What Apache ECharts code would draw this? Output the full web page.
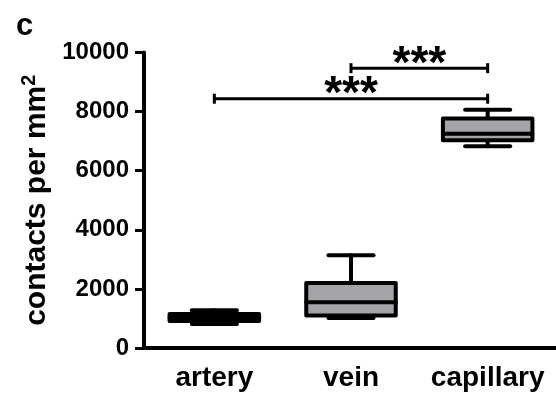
<!DOCTYPE html>
<html>
<head>
<meta charset="utf-8">
<script src="https://cdn.jsdelivr.net/npm/echarts@6/dist/echarts.min.js"></script>
<style>html,body{margin:0;padding:0;background:#fff;}#c{width:556px;height:402px;}</style>
</head>
<body>
<div id="c"></div>
<script>
var categories = ['artery', 'vein', 'capillary'];
var whiskerMin = [812, 1013, 6824];
var q1 = [914, 1098, 7027];
var median = [1030, 1544, 7253];
var q3 = [1150, 2196, 7770];
var whiskerMax = [1276, 3142, 8064];
var yTicks = [0, 2000, 4000, 6000, 8000, 10000];
// significance brackets: [fromIndex, toIndex, yValue, label]
var brackets = [[0, 2, 8436, '***'], [1, 2, 9470, '***']];

var FONT = "'Liberation Sans', Arial, sans-serif";
var chart = echarts.init(document.getElementById('c'));

var boxData = categories.map(function (c, i) {
  return [i, whiskerMin[i], q1[i], median[i], q3[i], whiskerMax[i]];
});

function renderBox(params, api) {
  var i = api.value(0);
  var step = api.size([1, 0])[0];
  var bw = step * 0.655;
  var cw = step * 0.33;
  var pMin = api.coord([i, api.value(1)]);
  var pQ1 = api.coord([i, api.value(2)]);
  var pMed = api.coord([i, api.value(3)]);
  var pQ3 = api.coord([i, api.value(4)]);
  var pMax = api.coord([i, api.value(5)]);
  var x = pMed[0];
  var ls = { stroke: '#000', lineWidth: 4, lineCap: 'round', lineJoin: 'round', fill: null };
  return {
    type: 'group',
    children: [
      { type: 'line', shape: { x1: x, y1: pQ3[1], x2: x, y2: pMax[1] }, style: ls },
      { type: 'line', shape: { x1: x, y1: pQ1[1], x2: x, y2: pMin[1] }, style: ls },
      { type: 'line', shape: { x1: x - cw / 2, y1: pMax[1], x2: x + cw / 2, y2: pMax[1] }, style: ls },
      { type: 'line', shape: { x1: x - cw / 2, y1: pMin[1], x2: x + cw / 2, y2: pMin[1] }, style: ls },
      { type: 'rect', shape: { x: x - bw / 2, y: pQ3[1], width: bw, height: pQ1[1] - pQ3[1] },
        style: { fill: '#a3a3a8', stroke: '#000', lineWidth: 4, lineJoin: 'round' } },
      { type: 'line', shape: { x1: x - bw / 2, y1: pMed[1], x2: x + bw / 2, y2: pMed[1] }, style: ls }
    ]
  };
}

function renderBracket(params, api) {
  var a = api.coord([api.value(0), api.value(2)]);
  var b = api.coord([api.value(1), api.value(2)]);
  var ls = { stroke: '#000', lineWidth: 3, fill: null };
  return {
    type: 'group',
    children: [
      { type: 'line', shape: { x1: a[0], y1: a[1], x2: b[0], y2: b[1] }, style: ls },
      { type: 'line', shape: { x1: a[0], y1: a[1] - 5, x2: a[0], y2: a[1] + 5 }, style: ls },
      { type: 'line', shape: { x1: b[0], y1: b[1] - 5, x2: b[0], y2: b[1] + 5 }, style: ls },
      { type: 'text', x: (a[0] + b[0]) / 2, y: a[1] + 20,
        style: { text: brackets[params.dataIndex][3], fill: '#000', font: 'bold 46px ' + FONT,
          align: 'center', verticalAlign: 'bottom' } }
    ]
  };
}

var option = {
  backgroundColor: '#fff',
  animation: false,
  graphic: [{ type: 'text', left: 16, top: 11, style: { text: 'c', font: 'bold 31px ' + FONT, fill: '#000' } }],
  grid: { left: 146, right: -2, top: 52.5, bottom: 54 },
  xAxis: {
    type: 'category', data: categories, boundaryGap: true,
    axisLine: { lineStyle: { color: '#000', width: 4 } },
    axisTick: { alignWithLabel: true, length: 10, lineStyle: { color: '#000', width: 3 } },
    axisLabel: { interval: 0, color: '#000', fontSize: 28, fontWeight: 'bold', fontFamily: FONT, margin: 16 },
    splitLine: { show: false }
  },
  yAxis: {
    type: 'value', min: 0, max: 10000, interval: 2000, offset: 2,
    name: 'contacts per mm{s|2}', nameLocation: 'middle', nameGap: 82,
    nameTextStyle: { color: '#000', fontSize: 30, fontWeight: 'bold', fontFamily: FONT,
      rich: { s: { fontSize: 20, fontWeight: 'bold', fontFamily: FONT, color: '#000', verticalAlign: 'top', padding: [0, 0, 13, 0] } } },
    axisLine: { show: true, lineStyle: { color: '#000', width: 4 } },
    axisTick: { show: true, length: 9, lineStyle: { color: '#000', width: 3 } },
    axisLabel: { color: '#000', fontSize: 24, fontWeight: 'bold', fontFamily: FONT, margin: 15,
      formatter: function (v) { return yTicks.indexOf(v) >= 0 ? String(v) : ''; } },
    splitLine: { show: false }
  },
  series: [
    { type: 'custom', renderItem: renderBox, data: boxData, clip: false, z: 3 },
    { type: 'custom', renderItem: renderBracket, data: brackets.map(function (b) { return [b[0], b[1], b[2]]; }), clip: false, z: 4 }
  ]
};
chart.setOption(option);
</script>
</body>
</html>
